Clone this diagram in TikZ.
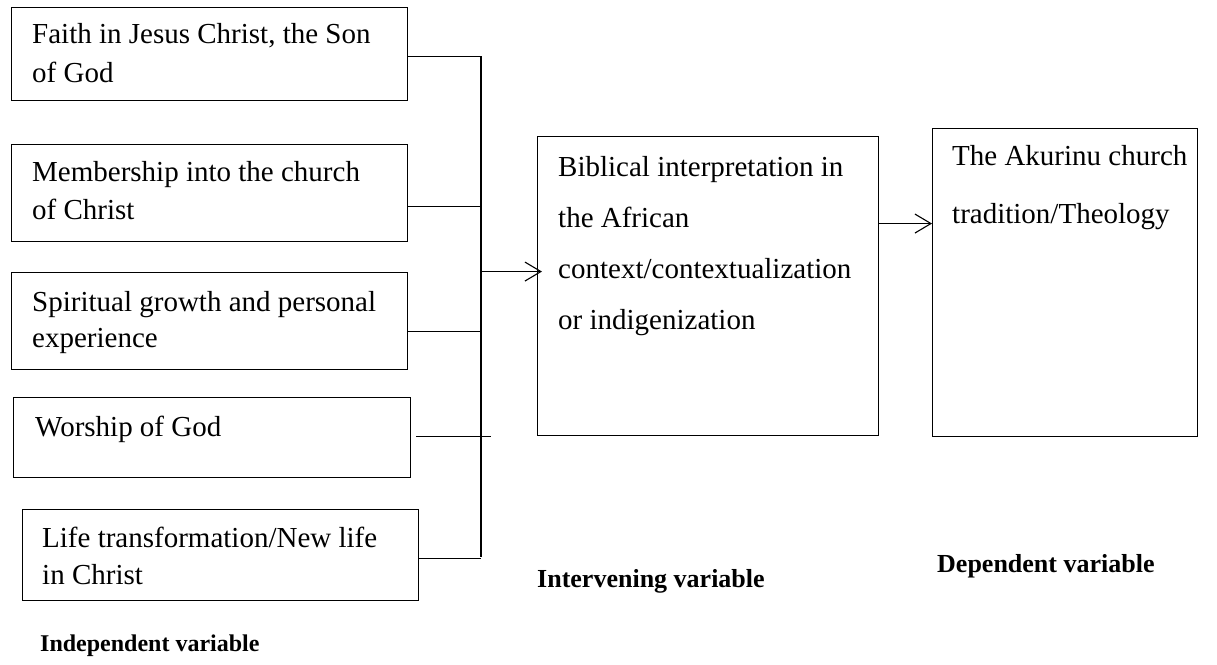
\documentclass[tikz,border=0pt]{standalone}
\usepackage{fontspec}
\setmainfont{Liberation Serif}
\usetikzlibrary{arrows.meta}
\begin{document}
\begin{tikzpicture}[x=1pt,y=-1pt,
  box/.style={draw=black,line width=1.1pt,inner sep=0pt,anchor=north west},
  txt/.style={inner sep=0pt,anchor=base west,font=\fontsize{29}{39}\selectfont},
  ln/.style={line width=1.1pt},
  arr/.style={line width=1.1pt,-{Straight Barb[length=16pt,width=19pt,line width=1.1pt]}},
  lbl/.style={inner sep=0pt,anchor=base west,font=\fontsize{26}{30}\selectfont\bfseries}]
\useasboundingbox (0,0) rectangle (1217,664);
% left boxes
\node[box,minimum width=396pt,minimum height=93pt] (b1) at (11,7) {};
\node[box,minimum width=396pt,minimum height=97pt] (b2) at (11,144) {};
\node[box,minimum width=396pt,minimum height=97pt] (b3) at (11,272) {};
\node[box,minimum width=397pt,minimum height=80pt] (b4) at (13,397) {};
\node[box,minimum width=396pt,minimum height=91pt] (b5) at (22,509) {};
\node[txt] (t1) at (32,43) {\parbox[t]{370pt}{\raggedright Faith in Jesus Christ, the Son\\of God}};
\node[txt,font=\fontsize{29}{38}\selectfont] (t2) at (32,181) {\parbox[t]{370pt}{\raggedright Membership into the church\\of Christ}};
\node[txt,font=\fontsize{29}{36}\selectfont] (t3) at (32,311) {\parbox[t]{370pt}{\raggedright Spiritual growth and personal\\experience}};
\node[txt] (t4) at (35,436) {Worship of God};
\node[txt,font=\fontsize{29}{37}\selectfont] (t5) at (42,547) {\parbox[t]{370pt}{\raggedright Life transformation/New life\\in Christ}};
% middle and right boxes
\node[box,minimum width=341pt,minimum height=299pt] (mid) at (537,136) {};
\node[box,minimum width=265pt,minimum height=308pt] (dep) at (932,128) {};
\node[txt,font=\fontsize{29}{51}\selectfont] (tm) at (558,176) {\parbox[t]{320pt}{\raggedright Biblical interpretation in\\the African\\context/contextualization\\or indigenization}};
\node[txt,font=\fontsize{29}{58}\selectfont] (td) at (952,165) {\parbox[t]{240pt}{\raggedright The Akurinu church\\tradition/Theology}};
% labels
\node[lbl,font=\fontsize{24}{28}\selectfont\bfseries] (l1) at (40,651) {Independent variable};
\node[lbl] (l2) at (537,587) {Intervening variable};
\node[lbl] (l3) at (937,572) {Dependent variable};
% connectors
\coordinate (bt) at (481,56);
\coordinate (bb) at (481,557);
\draw[ln] (bt) -- (bb);
\draw[ln] ([yshift=-2.5pt]b1.east) -- ([yshift=-2.5pt]b1.east -| bt);
\draw[ln] ([yshift=-13.5pt]b2.east) -- ([yshift=-13.5pt]b2.east -| bt);
\draw[ln] ([yshift=-10.5pt]b3.east) -- ([yshift=-10.5pt]b3.east -| bt);
\draw[ln] ([xshift=5pt,yshift=1pt]b4.east) -- ([xshift=5pt,yshift=1pt]b4.east -| 486,0);
\draw[ln] ([yshift=-3pt]b5.east) -- ([yshift=-3pt]b5.east -| bt);
\draw[arr,shorten >=-5pt] ([yshift=14.5pt]mid.west -| bt) -- ([yshift=14.5pt]mid.west);
\draw[arr] ([yshift=62.5pt]mid.east) -- ([yshift=62.5pt]mid.east -| dep.west);
\end{tikzpicture}
\end{document}
